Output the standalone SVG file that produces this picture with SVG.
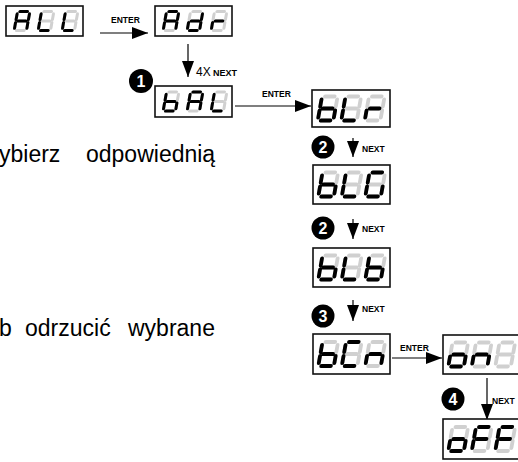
<svg xmlns="http://www.w3.org/2000/svg" width="518" height="462" viewBox="0 0 518 462">
<defs>
<style>
.box{fill:#fff;stroke:#111;stroke-width:1.6}
.seg{fill:none;stroke-width:3.2;stroke-linecap:round}
.off{stroke:#d0d0d0}
.on{stroke:#000}
.lbl{font-family:"Liberation Sans",Arial,sans-serif;font-weight:bold;font-size:8.5px;fill:#000}
.x4{font-family:"Liberation Sans",Arial,sans-serif;font-size:12px;fill:#000}
.nx{font-family:"Liberation Sans",Arial,sans-serif;font-weight:bold;font-size:9px;fill:#000}
.num{font-family:"Liberation Sans",Arial,sans-serif;font-weight:bold;font-size:16px;fill:#fff;text-anchor:middle}
.txt{font-family:"Liberation Sans",Arial,sans-serif;font-size:23px;fill:#000}
.conn{stroke:#000;stroke-width:1.2;fill:none;marker-end:url(#ah)}
</style>
<marker id="ah" markerUnits="userSpaceOnUse" markerWidth="16" markerHeight="12" refX="16" refY="6" orient="auto">
<path d="M0,0 L16,6 L0,12 Z" fill="#000"/>
</marker>
<g id="s8" class="seg off"><path d="M2.5,0H10.5M13,2.5V8.3M13,11.7V17.5M2.5,20H10.5M0,11.7V17.5M0,2.5V8.3M2.5,10H10.5"/></g>
<g id="cA" class="seg on"><path d="M2.5,0H10.5M13,2.5V8.3M13,11.7V17.5M0,11.7V17.5M0,2.5V8.3M2.5,10H10.5"/></g>
<g id="cL" class="seg on"><path d="M2.5,20H10.5M0,11.7V17.5M0,2.5V8.3"/></g>
<g id="cd" class="seg on"><path d="M13,2.5V8.3M13,11.7V17.5M2.5,20H10.5M0,11.7V17.5M2.5,10H10.5"/></g>
<g id="cr" class="seg on"><path d="M0,11.7V17.5M2.5,10H10.5"/></g>
<g id="cb" class="seg on"><path d="M13,11.7V17.5M2.5,20H10.5M0,11.7V17.5M0,2.5V8.3M2.5,10H10.5"/></g>
<g id="cG" class="seg on"><path d="M2.5,0H10.5M13,11.7V17.5M2.5,20H10.5M0,11.7V17.5M0,2.5V8.3"/></g>
<g id="cC" class="seg on"><path d="M2.5,0H10.5M2.5,20H10.5M0,11.7V17.5M0,2.5V8.3"/></g>
<g id="cn" class="seg on"><path d="M13,11.7V17.5M0,11.7V17.5M2.5,10H10.5"/></g>
<g id="co" class="seg on"><path d="M13,11.7V17.5M2.5,20H10.5M0,11.7V17.5M2.5,10H10.5"/></g>
<g id="cF" class="seg on"><path d="M2.5,0H10.5M0,11.7V17.5M0,2.5V8.3M2.5,10H10.5"/></g>
</defs>
<rect width="518" height="462" fill="#fff"/>

<g id="text-left" class="txt">
<text x="-1" y="162">ybierz</text>
<text x="86" y="162">odpowiednią</text>
<text x="-1" y="336">b</text>
<text x="25" y="336">odrzucić</text>
<text x="128" y="336">wybrane</text>
</g>

<g id="connectors">
<line class="conn" x1="100" y1="33" x2="148" y2="33"/>
<line class="conn" x1="188" y1="44" x2="188" y2="77"/>
<line class="conn" x1="235" y1="106" x2="311" y2="106"/>
<line class="conn" x1="353" y1="138" x2="353" y2="157"/>
<line class="conn" x1="353" y1="219" x2="353" y2="239"/>
<line class="conn" x1="353" y1="300" x2="353" y2="321"/>
<line class="conn" x1="392" y1="358" x2="442" y2="358"/>
<line class="conn" x1="487" y1="378" x2="487" y2="420"/>
<text class="lbl" x="111" y="23">ENTER</text>
<text class="x4" x="196" y="76">4X</text>
<text class="nx" x="213" y="76">NEXT</text>
<text class="lbl" x="262" y="97">ENTER</text>
<text class="lbl" x="362" y="152">NEXT</text>
<text class="lbl" x="362" y="232">NEXT</text>
<text class="lbl" x="362" y="312">NEXT</text>
<text class="lbl" x="400" y="351">ENTER</text>
<text class="lbl" x="492" y="404">NEXT</text>
</g>

<g id="step1"><circle cx="141" cy="81" r="12"/><text class="num" x="141" y="86.5">1</text></g>
<g id="step2a"><circle cx="323" cy="147" r="11.5"/><text class="num" x="323" y="152.5">2</text></g>
<g id="step2b"><circle cx="323" cy="228" r="11.5"/><text class="num" x="323" y="233.5">2</text></g>
<g id="step3"><circle cx="323" cy="316" r="11.5"/><text class="num" x="323" y="321.5">3</text></g>
<g id="step4"><circle cx="453" cy="399" r="11.5"/><text class="num" x="453" y="404.5">4</text></g>

<g id="node-ALL" transform="translate(6,6)">
<rect class="box" width="77" height="30"/>
<g transform="translate(11.5,5.5) scale(0.95) skewX(-10)"><use href="#s8"/><use href="#cA"/></g>
<g transform="translate(35.5,5.5) scale(0.95) skewX(-10)"><use href="#s8"/><use href="#cL"/></g>
<g transform="translate(59.5,5.5) scale(0.95) skewX(-10)"><use href="#s8"/><use href="#cL"/></g>
</g>
<g id="node-Adr" transform="translate(155,6)">
<rect class="box" width="77" height="30"/>
<g transform="translate(11.5,5.5) scale(0.95) skewX(-10)"><use href="#s8"/><use href="#cA"/></g>
<g transform="translate(35.5,5.5) scale(0.95) skewX(-10)"><use href="#s8"/><use href="#cd"/></g>
<g transform="translate(59.5,5.5) scale(0.95) skewX(-10)"><use href="#s8"/><use href="#cr"/></g>
</g>
<g id="node-bAL" transform="translate(155,86)">
<rect class="box" width="77" height="31"/>
<g transform="translate(11.5,6) scale(0.95) skewX(-10)"><use href="#s8"/><use href="#cb"/></g>
<g transform="translate(35.5,6) scale(0.95) skewX(-10)"><use href="#s8"/><use href="#cA"/></g>
<g transform="translate(59.5,6) scale(0.95) skewX(-10)"><use href="#s8"/><use href="#cL"/></g>
</g>
<g id="node-bLr" transform="translate(312,90)">
<rect class="box" width="78" height="37"/>
<g transform="translate(10,6.5) scale(1.2) skewX(-10)"><use href="#s8"/><use href="#cb"/></g>
<g transform="translate(33.5,6.5) scale(1.2) skewX(-10)"><use href="#s8"/><use href="#cL"/></g>
<g transform="translate(57,6.5) scale(1.2) skewX(-10)"><use href="#s8"/><use href="#cr"/></g>
</g>
<g id="node-bLG" transform="translate(313,165)">
<rect class="box" width="77" height="39"/>
<g transform="translate(9.5,7.5) scale(1.2) skewX(-10)"><use href="#s8"/><use href="#cb"/></g>
<g transform="translate(33,7.5) scale(1.2) skewX(-10)"><use href="#s8"/><use href="#cL"/></g>
<g transform="translate(56.5,7.5) scale(1.2) skewX(-10)"><use href="#s8"/><use href="#cG"/></g>
</g>
<g id="node-bLb" transform="translate(313,248)">
<rect class="box" width="77" height="39"/>
<g transform="translate(9.5,7.5) scale(1.2) skewX(-10)"><use href="#s8"/><use href="#cb"/></g>
<g transform="translate(33,7.5) scale(1.2) skewX(-10)"><use href="#s8"/><use href="#cL"/></g>
<g transform="translate(56.5,7.5) scale(1.2) skewX(-10)"><use href="#s8"/><use href="#cb"/></g>
</g>
<g id="node-bCn" transform="translate(313,334)">
<rect class="box" width="77" height="40"/>
<g transform="translate(9.5,8) scale(1.2) skewX(-10)"><use href="#s8"/><use href="#cb"/></g>
<g transform="translate(33,8) scale(1.2) skewX(-10)"><use href="#s8"/><use href="#cC"/></g>
<g transform="translate(56.5,8) scale(1.2) skewX(-10)"><use href="#s8"/><use href="#cn"/></g>
</g>
<g id="node-on" transform="translate(443,335)">
<rect class="box" width="77" height="39"/>
<g transform="translate(9.5,7.5) scale(1.2) skewX(-10)"><use href="#s8"/><use href="#co"/></g>
<g transform="translate(33,7.5) scale(1.2) skewX(-10)"><use href="#s8"/><use href="#cn"/></g>
<g transform="translate(56.5,7.5) scale(1.2) skewX(-10)"><use href="#s8"/></g>
</g>
<g id="node-oFF" transform="translate(443,419)">
<rect class="box" width="77" height="40"/>
<g transform="translate(9.5,8) scale(1.2) skewX(-10)"><use href="#s8"/><use href="#co"/></g>
<g transform="translate(33,8) scale(1.2) skewX(-10)"><use href="#s8"/><use href="#cF"/></g>
<g transform="translate(56.5,8) scale(1.2) skewX(-10)"><use href="#s8"/><use href="#cF"/></g>
</g>
</svg>
